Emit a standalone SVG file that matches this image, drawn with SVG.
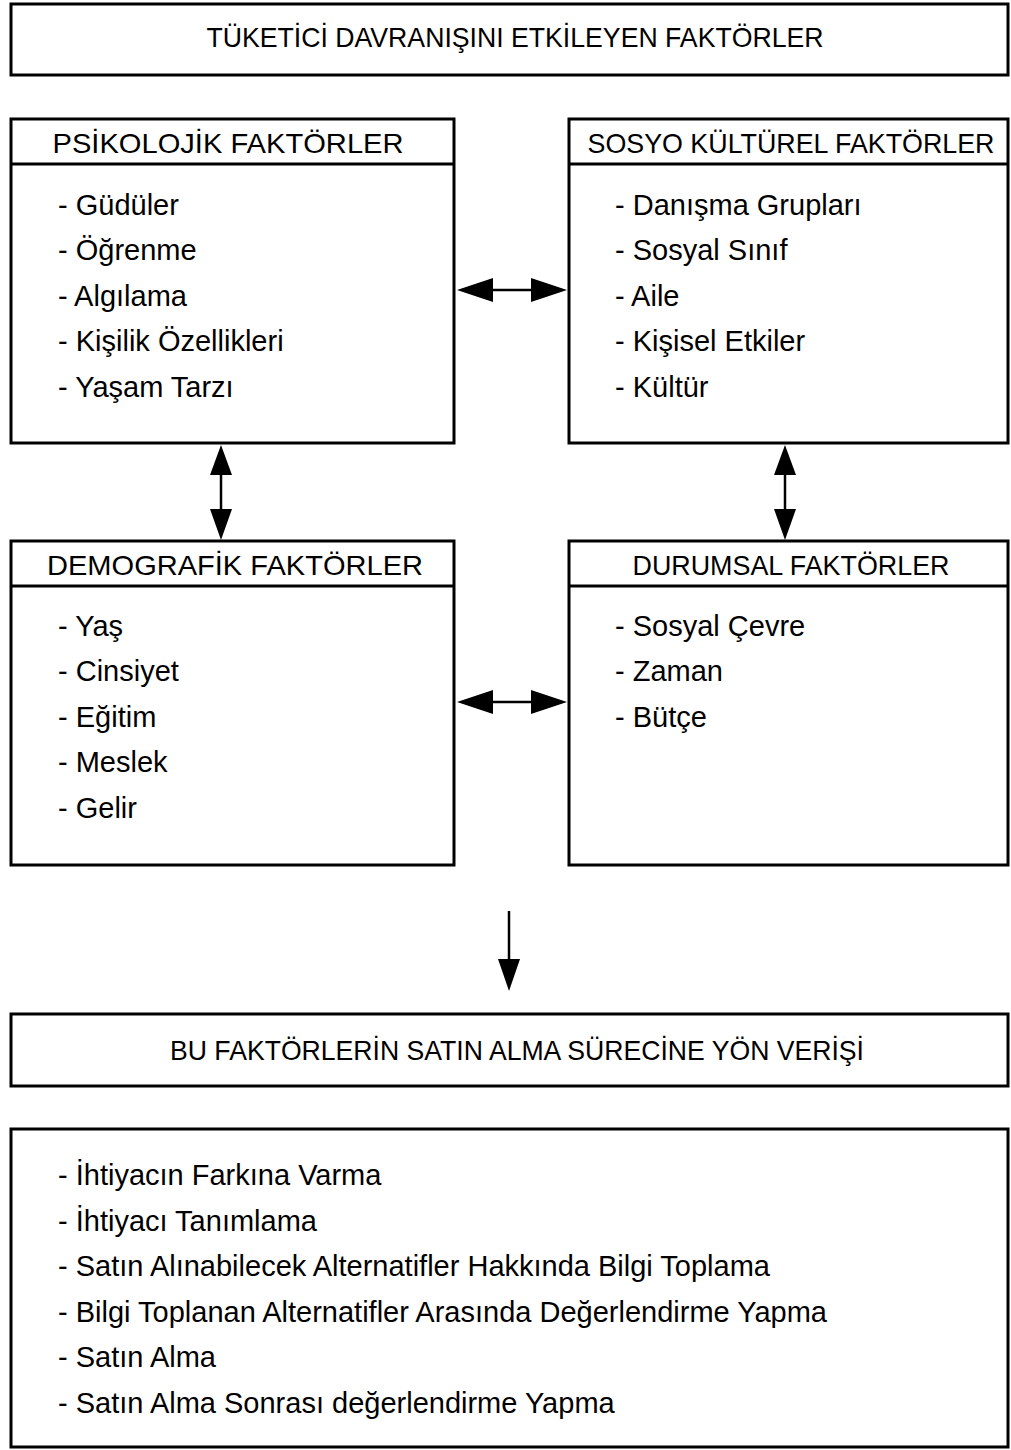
<svg xmlns="http://www.w3.org/2000/svg" width="1011" height="1450" viewBox="0 0 1011 1450">
<style>
.box{fill:#fff;stroke:#000;stroke-width:3}
.sep{stroke:#000;stroke-width:3}
.t{font-family:"Liberation Sans",Arial,sans-serif;font-size:29px;fill:#000}
.h{font-family:"Liberation Sans",Arial,sans-serif;font-size:28px;fill:#000;text-anchor:middle}
.ln{stroke:#000;stroke-width:2.5}
.hd{fill:#000}
</style>
<rect width="1011" height="1450" fill="#fff"/>
<g id="title">
<rect class="box" x="11" y="4" width="997" height="71"/>
<text class="h" x="515" y="47" textLength="617" lengthAdjust="spacingAndGlyphs">TÜKETİCİ DAVRANIŞINI ETKİLEYEN FAKTÖRLER</text>
</g>
<g id="psikolojik">
<rect class="box" x="11" y="119" width="443" height="324"/>
<line class="sep" x1="11" y1="164" x2="454" y2="164"/>
<text class="h" x="228" y="153" textLength="351" lengthAdjust="spacingAndGlyphs">PSİKOLOJİK FAKTÖRLER</text>
<text class="t" x="58" y="215">- Güdüler</text>
<text class="t" x="58" y="260">- Öğrenme</text>
<text class="t" x="58" y="306">- Algılama</text>
<text class="t" x="58" y="351">- Kişilik Özellikleri</text>
<text class="t" x="58" y="397">- Yaşam Tarzı</text>
</g>
<g id="sosyo">
<rect class="box" x="569" y="119" width="439" height="324"/>
<line class="sep" x1="569" y1="164" x2="1008" y2="164"/>
<text class="h" x="791" y="153" textLength="407" lengthAdjust="spacingAndGlyphs">SOSYO KÜLTÜREL FAKTÖRLER</text>
<text class="t" x="615" y="215">- Danışma Grupları</text>
<text class="t" x="615" y="260">- Sosyal Sınıf</text>
<text class="t" x="615" y="306">- Aile</text>
<text class="t" x="615" y="351">- Kişisel Etkiler</text>
<text class="t" x="615" y="397">- Kültür</text>
</g>
<g id="demografik">
<rect class="box" x="11" y="541" width="443" height="324"/>
<line class="sep" x1="11" y1="586" x2="454" y2="586"/>
<text class="h" x="235" y="575" textLength="376" lengthAdjust="spacingAndGlyphs">DEMOGRAFİK FAKTÖRLER</text>
<text class="t" x="58" y="636">- Yaş</text>
<text class="t" x="58" y="681">- Cinsiyet</text>
<text class="t" x="58" y="727">- Eğitim</text>
<text class="t" x="58" y="772">- Meslek</text>
<text class="t" x="58" y="818">- Gelir</text>
</g>
<g id="durumsal">
<rect class="box" x="569" y="541" width="439" height="324"/>
<line class="sep" x1="569" y1="586" x2="1008" y2="586"/>
<text class="h" x="791" y="575" textLength="317" lengthAdjust="spacingAndGlyphs">DURUMSAL FAKTÖRLER</text>
<text class="t" x="615" y="636">- Sosyal Çevre</text>
<text class="t" x="615" y="681">- Zaman</text>
<text class="t" x="615" y="727">- Bütçe</text>
</g>
<g id="yon">
<rect class="box" x="11" y="1014" width="997" height="72"/>
<text class="h" x="517" y="1060" textLength="694" lengthAdjust="spacingAndGlyphs">BU FAKTÖRLERİN SATIN ALMA SÜRECİNE YÖN VERİŞİ</text>
</g>
<g id="surec">
<rect class="box" x="11" y="1129" width="997" height="318"/>
<text class="t" x="58" y="1185">- İhtiyacın Farkına Varma</text>
<text class="t" x="58" y="1231">- İhtiyacı Tanımlama</text>
<text class="t" x="58" y="1276">- Satın Alınabilecek Alternatifler Hakkında Bilgi Toplama</text>
<text class="t" x="58" y="1322">- Bilgi Toplanan Alternatifler Arasında Değerlendirme Yapma</text>
<text class="t" x="58" y="1367">- Satın Alma</text>
<text class="t" x="58" y="1413">- Satın Alma Sonrası değerlendirme Yapma</text>
</g>
<g id="connectors">
<line class="ln" x1="490" y1="290" x2="535" y2="290"/>
<polygon class="hd" points="457,290 493,278 493,302"/>
<polygon class="hd" points="567,290 531,278 531,302"/>
<line class="ln" x1="490" y1="702" x2="535" y2="702"/>
<polygon class="hd" points="457,702 493,690 493,714"/>
<polygon class="hd" points="567,702 531,690 531,714"/>
<line class="ln" x1="221" y1="470" x2="221" y2="515"/>
<polygon class="hd" points="221,445 210,475 232,475"/>
<polygon class="hd" points="221,540 210,509 232,509"/>
<line class="ln" x1="785" y1="470" x2="785" y2="515"/>
<polygon class="hd" points="785,445 774,475 796,475"/>
<polygon class="hd" points="785,540 774,509 796,509"/>
<line class="ln" x1="509" y1="911" x2="509" y2="965"/>
<polygon class="hd" points="509,991 498,959 520,959"/>
</g>
</svg>
